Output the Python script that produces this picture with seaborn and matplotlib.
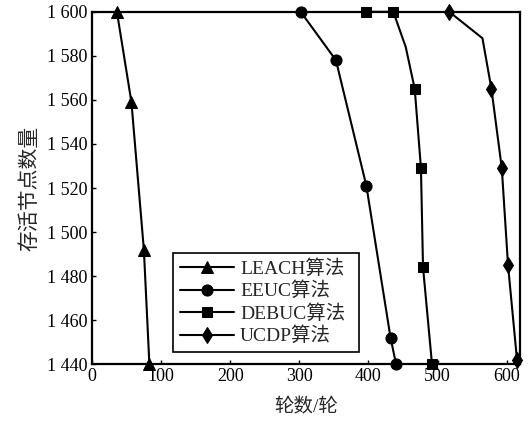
import matplotlib
matplotlib.use('Agg')
import matplotlib.pyplot as plt
import seaborn as sns
import pandas as pd

# values
leach_rounds = [36, 57, 75, 83]
leach_alive = [1600, 1559, 1492, 1440]
eeuc_rounds = [302, 353, 397, 432, 440]
eeuc_alive = [1600, 1578, 1521, 1452, 1440]
debuc_rounds = [397, 436, 454, 467, 476, 479, 492]
debuc_alive = [1600, 1600, 1584, 1565, 1529, 1484, 1440]
ucdp_rounds = [517, 565, 578, 593, 602, 615]
ucdp_alive = [1600, 1588, 1565, 1529, 1485, 1442]

x_ticks = [0, 100, 200, 300, 400, 500, 600]
y_ticks = [1440, 1460, 1480, 1500, 1520, 1540, 1560, 1580, 1600]
y_tick_labels = ['1 440', '1 460', '1 480', '1 500', '1 520', '1 540', '1 560', '1 580', '1 600']

sns.set_theme(style='white')
plt.rcParams['font.family'] = ['Liberation Serif', 'Noto Sans CJK SC']
plt.rcParams['font.size'] = 13

fig = plt.figure(figsize=(5.32, 4.22), dpi=100)
ax = fig.add_axes([0.173, 0.137, 0.804, 0.835])

series = [
    ('LEACH算法', leach_rounds, leach_alive, '^', 8, None),
    ('EEUC算法', eeuc_rounds, eeuc_alive, 'o', 8, None),
    ('DEBUC算法', debuc_rounds, debuc_alive, 's', 6.5, [0, 1, 3, 4, 5, 6]),
    ('UCDP算法', ucdp_rounds, ucdp_alive, 'd', 8.5, [0, 2, 3, 4, 5]),
]

for name, xs, ys, mk, ms, every in series:
    df = pd.DataFrame({'rounds': xs, 'alive': ys})
    sns.lineplot(data=df, x='rounds', y='alive', ax=ax, sort=False, estimator=None,
                 color='black', linewidth=1.5, marker=mk, markersize=ms,
                 markeredgecolor='black', markerfacecolor='black',
                 markevery=every, label=name, clip_on=False)

ax.set_xlim(0, 619)
ax.set_ylim(1440, 1600)
ax.set_xticks(x_ticks)
ax.set_yticks(y_ticks)
ax.set_yticklabels(y_tick_labels)

for side in ['left', 'bottom', 'top', 'right']:
    ax.spines[side].set_visible(True)
    ax.spines[side].set_color('black')
    ax.spines[side].set_linewidth(1.6)

ax.tick_params(direction='in', length=3, width=1, colors='black',
               labelsize=13, top=False, right=False, left=True, bottom=True, pad=3)

ax.set_xlabel('轮数/轮', fontsize=14, labelpad=9)
ax.set_ylabel('存活节点数量', fontsize=15, labelpad=5)

leg = ax.legend(loc='lower left', bbox_to_anchor=(0.189, 0.034, 0.435, 0.284),
                mode='expand', frameon=True, fancybox=False, framealpha=1,
                edgecolor='black', handlelength=2.8, handletextpad=0.3,
                labelspacing=0.2, borderpad=0.35, fontsize=14, borderaxespad=0)
leg.get_frame().set_linewidth(1.2)

fig.savefig('out.png', dpi=100)
